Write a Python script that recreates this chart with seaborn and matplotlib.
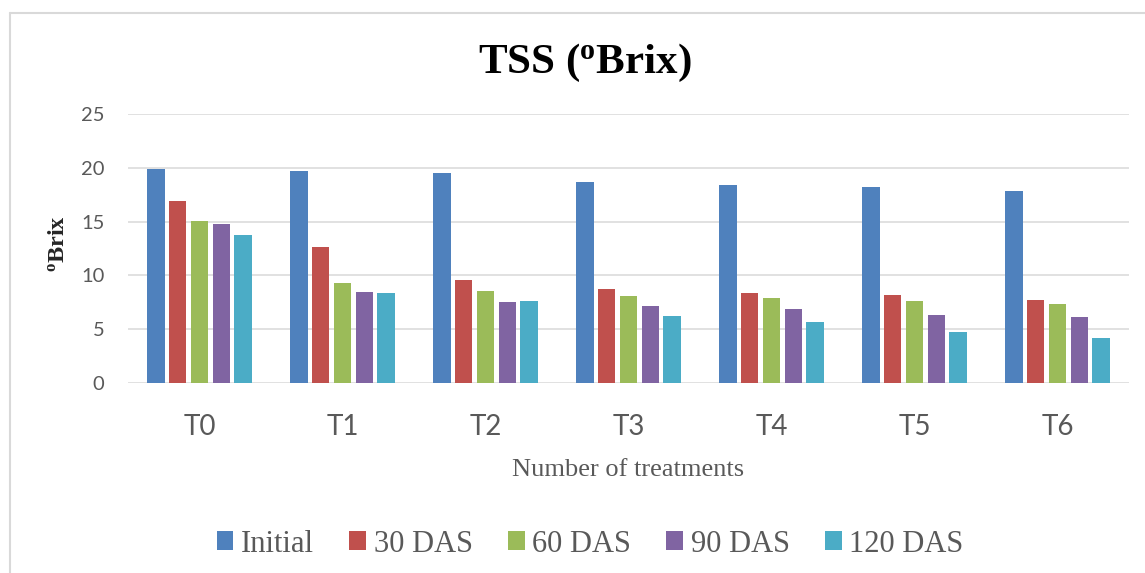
import matplotlib
matplotlib.use("Agg")
import matplotlib.pyplot as plt
from matplotlib.lines import Line2D
import seaborn as sns
import pandas as pd

# Treatments on the x axis and sampling stages as bar series
treatments = ["T0", "T1", "T2", "T3", "T4", "T5", "T6"]
stages = ["Initial", "30 DAS", "60 DAS", "90 DAS", "120 DAS"]

initial = [19.9, 19.7, 19.5, 18.7, 18.4, 18.25, 17.85]
das_30 = [16.95, 12.65, 9.55, 8.75, 8.35, 8.15, 7.75]
das_60 = [15.05, 9.3, 8.55, 8.1, 7.9, 7.6, 7.35]
das_90 = [14.8, 8.45, 7.55, 7.15, 6.85, 6.35, 6.1]
das_120 = [13.75, 8.35, 7.65, 6.2, 5.7, 4.7, 4.2]

colors = ["#4F81BD", "#C0504D", "#9BBB59", "#8064A2", "#4BACC6"]

series = [initial, das_30, das_60, das_90, das_120]
df = pd.DataFrame(
    [(t, s, v) for s, vals in zip(stages, series) for t, v in zip(treatments, vals)],
    columns=["Treatment", "Stage", "TSS"],
)

sns.set_theme(style="white")
plt.rcParams["mathtext.fontset"] = "custom"
plt.rcParams["mathtext.rm"] = "Liberation Serif"
plt.rcParams["mathtext.bf"] = "Liberation Serif:bold"
plt.rcParams["mathtext.it"] = "Liberation Serif:italic"

SERIF = "Liberation Serif"
SANS = "Lato"
GREY = "#595959"
GRID = "#d9d9d9"

fig = plt.figure(figsize=(11.45, 5.73), dpi=100)
ax = fig.add_axes([128 / 1145, 1 - 383 / 573, 1001 / 1145, 269 / 573])

sns.barplot(
    data=df, x="Treatment", y="TSS", hue="Stage",
    order=treatments, hue_order=stages, palette=colors,
    width=0.76, gap=0.2, linewidth=0, saturation=1, ax=ax,
)

ax.set_ylim(0, 25)
ax.set_xlim(-0.5, 6.5)
ax.set_yticks([0, 5, 10, 15, 20, 25])
ax.yaxis.grid(True, color=GRID, linewidth=1.1)
ax.set_axisbelow(True)
for sp in ax.spines.values():
    sp.set_visible(False)

ax.tick_params(axis="y", length=0, pad=17, labelsize=14.5, labelcolor=GREY)
ax.tick_params(axis="x", length=0, pad=22, labelsize=20, labelcolor=GREY)
for lab in ax.get_xticklabels() + ax.get_yticklabels():
    lab.set_fontfamily(SANS)

ax.set_xlabel("Number of treatments", fontsize=19, fontfamily=SERIF,
              color=GREY, va="baseline")
ax.xaxis.set_label_coords(0.5, -(476 - 383) / 269)

ax.set_ylabel(r"$^{\mathbf{o}}$Brix", fontsize=17.5, fontfamily=SERIF,
              fontweight="bold", color="#262626", va="center")
ax.yaxis.set_label_coords((59 - 128) / 1001, 0.52)

fig.text(585 / 1145, 1 - 73 / 573, r"TSS ($^{\mathbf{o}}$Brix)",
         fontsize=31, fontfamily=SERIF, fontweight="bold", color="black",
         ha="center", va="baseline")

handles, labels = ax.get_legend_handles_labels()
if ax.get_legend() is not None:
    ax.get_legend().remove()
fig.legend(
    handles, labels, loc="center", bbox_to_anchor=(590 / 1145, 1 - 544 / 573),
    ncol=5, frameon=False, prop={"family": SERIF, "size": 22},
    labelcolor=GREY, handlelength=0.55, handleheight=0.55,
    handletextpad=0.25, columnspacing=1.15, borderaxespad=0,
)

# Light chart-area border along the left and top edges
fig.add_artist(Line2D([9.5 / 1145, 9.5 / 1145], [0, 1 - 12.5 / 573],
                      transform=fig.transFigure, color=GRID, linewidth=1.5))
fig.add_artist(Line2D([9.5 / 1145, 1], [1 - 12.5 / 573, 1 - 12.5 / 573],
                      transform=fig.transFigure, color=GRID, linewidth=1.5))

fig.savefig("out.png", dpi=100, facecolor="white")
